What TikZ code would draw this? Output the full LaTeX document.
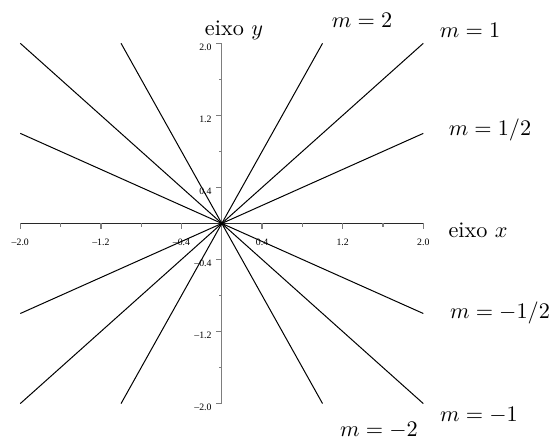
\documentclass[tikz,border=0pt]{standalone}
\usepackage{amsmath}
\usepackage{fontspec}
\newfontfamily\valorfont{Liberation Serif}
\usetikzlibrary{positioning}
\definecolor{axisgray}{RGB}{125,125,125}
\definecolor{axisdark}{RGB}{40,40,40}

\begin{document}
\begin{tikzpicture}[
  x=1.593cm,
  y=1.424cm,
  reta/.style={line width=.45pt,black},
  eixo/.style={line width=.55pt},
  valor/.style={inner sep=0pt,font=\valorfont\fontsize{4.4}{5}\selectfont},
  rotulo/.style={inner sep=0pt,font=\normalsize}
]
\useasboundingbox (-2.2015,-2.3989) rectangle (3.2576,2.481);
\coordinate (O) at (0,0);

% axes
\coordinate (xa) at (-2,0);
\coordinate (xb) at (2,0);
\coordinate (ya) at (0,-2);
\coordinate (yb) at (0,2);
\draw[eixo,axisdark] (xa) -- (xb);
\draw[eixo,axisgray] (ya) -- (yb);

% tick marks
\foreach \t in {-2,-1.2,-0.4,0.4,1.2,2}{
  \draw[eixo,axisgray] (\t,0) -- ++(0,-2.7pt);
  \draw[eixo,axisgray] (0,\t) -- ++(-2.7pt,0);
}
\foreach \t in {-1.6,-0.8,0.8,1.6}{
  \draw[eixo,axisgray] (\t,0) -- ++(0,-1.4pt);
  \draw[eixo,axisgray] (0,\t) -- ++(-1.4pt,0);
}

% tick labels
\foreach \t/\s [count=\k] in {-2/{\textendash2.0},-1.2/{\textendash1.2},-0.4/{\textendash0.4},
                             0.4/{0.4},1.2/{1.2},2/{2.0}}{
  \node[valor,yshift=-8.4pt] (vx\k) at (\t,0) {\s};
  \node[valor,anchor=east,xshift=-4.4pt,yshift=-1.8pt] (vy\k) at (0,\t) {\s};
}

% lines through the origin
\foreach \m/\e [count=\k] in {2/1,1/2,0.5/2,-0.5/2,-1/2,-2/1}{
  \coordinate (ini\k) at (-\e,{-\m*\e});
  \coordinate (fim\k) at (\e,{\m*\e});
  \draw[reta] (ini\k) -- (O) -- (fim\k);
}

% labels
\node[rotulo] (ey) at (0.121,2.148) {eixo $y$};
\node[rotulo] (ex) at (2.543,-0.08) {eixo $x$};
\node[rotulo] (m2) at (1.392,2.259) {$m=2$};
\node[rotulo] (m1) at (2.464,2.148) {$m=1$};
\node[rotulo] (mh) at (2.662,1.037) {$m=1/2$};
\node[rotulo] (mmh) at (2.761,-0.997) {$m=-1/2$};
\node[rotulo] (mm1) at (2.553,-2.130) {$m=-1$};
\node[rotulo] (mm2) at (1.560,-2.297) {$m=-2$};
\end{tikzpicture}
\end{document}
